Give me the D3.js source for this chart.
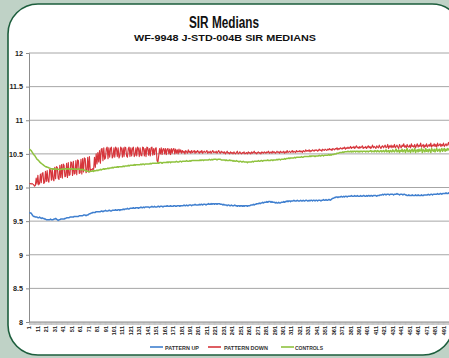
<!DOCTYPE html>
<html><head><meta charset="utf-8">
<script src="https://cdn.jsdelivr.net/npm/d3@7/dist/d3.min.js"></script>
<style>
html,body{margin:0;padding:0;background:#bfd2c6;overflow:hidden}
svg{display:block}
text{font-family:"Liberation Sans Narrow","Arial Narrow","Liberation Sans",Arial,sans-serif;font-weight:bold}
</style>
</head><body>
<svg id="chart" width="449" height="358"></svg>
<script>
// Median SIR readings per sample, three board groups
const patternUp = [
9.63,9.62,9.62,9.60,9.58,9.57,9.57,9.56,9.56,9.56,
9.55,9.55,9.56,9.55,9.54,9.55,9.54,9.54,9.53,9.53,
9.52,9.52,9.52,9.52,9.52,9.53,9.52,9.52,9.52,9.53,
9.53,9.54,9.53,9.52,9.51,9.52,9.52,9.53,9.53,9.53,
9.53,9.53,9.54,9.54,9.55,9.55,9.55,9.55,9.56,9.56,
9.56,9.56,9.56,9.57,9.57,9.57,9.57,9.57,9.57,9.58,
9.58,9.58,9.58,9.58,9.59,9.59,9.59,9.58,9.59,9.59,
9.60,9.61,9.61,9.62,9.62,9.63,9.63,9.63,9.63,9.64,
9.64,9.64,9.64,9.64,9.64,9.65,9.65,9.64,9.65,9.65,
9.66,9.65,9.65,9.65,9.66,9.66,9.65,9.65,9.66,9.66,
9.66,9.66,9.67,9.66,9.66,9.67,9.67,9.66,9.67,9.67,
9.67,9.68,9.67,9.68,9.68,9.68,9.69,9.68,9.68,9.69,
9.69,9.69,9.69,9.70,9.69,9.69,9.70,9.70,9.70,9.69,
9.70,9.70,9.71,9.70,9.70,9.71,9.70,9.71,9.71,9.71,
9.71,9.71,9.70,9.71,9.71,9.72,9.71,9.71,9.72,9.71,
9.71,9.71,9.72,9.72,9.71,9.72,9.72,9.72,9.71,9.72,
9.72,9.72,9.72,9.73,9.72,9.72,9.72,9.73,9.72,9.72,
9.72,9.73,9.73,9.72,9.72,9.73,9.73,9.73,9.72,9.73,
9.73,9.73,9.73,9.74,9.73,9.73,9.74,9.73,9.73,9.74,
9.74,9.74,9.73,9.74,9.74,9.74,9.75,9.74,9.74,9.74,
9.74,9.75,9.74,9.75,9.75,9.74,9.75,9.75,9.75,9.74,
9.75,9.75,9.76,9.75,9.75,9.76,9.75,9.76,9.76,9.75,
9.76,9.76,9.75,9.76,9.76,9.76,9.75,9.75,9.75,9.74,
9.75,9.74,9.74,9.74,9.73,9.74,9.74,9.73,9.73,9.74,
9.73,9.73,9.73,9.74,9.73,9.73,9.72,9.73,9.73,9.72,
9.73,9.73,9.72,9.73,9.72,9.73,9.73,9.73,9.72,9.73,
9.73,9.73,9.74,9.74,9.74,9.75,9.74,9.75,9.75,9.76,
9.76,9.76,9.77,9.76,9.77,9.77,9.78,9.77,9.78,9.78,
9.78,9.79,9.78,9.79,9.79,9.79,9.78,9.79,9.78,9.78,
9.78,9.77,9.78,9.77,9.77,9.78,9.77,9.77,9.78,9.78,
9.78,9.79,9.78,9.79,9.79,9.80,9.79,9.80,9.80,9.79,
9.80,9.80,9.80,9.81,9.80,9.80,9.80,9.81,9.80,9.80,
9.80,9.81,9.80,9.80,9.81,9.80,9.80,9.81,9.81,9.80,
9.80,9.81,9.80,9.81,9.81,9.80,9.81,9.81,9.80,9.81,
9.81,9.80,9.81,9.81,9.81,9.80,9.81,9.81,9.82,9.81,
9.81,9.82,9.81,9.81,9.82,9.82,9.81,9.82,9.83,9.84,
9.84,9.85,9.85,9.86,9.86,9.85,9.86,9.86,9.86,9.87,
9.86,9.86,9.87,9.86,9.87,9.87,9.86,9.87,9.87,9.87,
9.87,9.88,9.87,9.87,9.87,9.88,9.87,9.87,9.88,9.87,
9.87,9.87,9.88,9.87,9.87,9.88,9.88,9.87,9.87,9.88,
9.87,9.88,9.88,9.87,9.88,9.88,9.87,9.88,9.88,9.88,
9.88,9.87,9.88,9.88,9.88,9.89,9.89,9.89,9.90,9.89,
9.90,9.90,9.89,9.90,9.90,9.90,9.89,9.90,9.90,9.90,
9.90,9.89,9.90,9.90,9.90,9.91,9.90,9.90,9.89,9.90,
9.90,9.90,9.89,9.90,9.90,9.89,9.89,9.88,9.88,9.89,
9.88,9.88,9.88,9.89,9.88,9.88,9.88,9.89,9.88,9.88,
9.89,9.88,9.88,9.88,9.89,9.88,9.88,9.89,9.89,9.89,
9.89,9.89,9.90,9.89,9.89,9.90,9.90,9.89,9.90,9.90,
9.90,9.90,9.90,9.91,9.90,9.90,9.91,9.91,9.90,9.91,
9.91,9.91,9.91,9.92,9.91,9.91,9.92,9.91,9.92,9.92
];

const patternDown = [
10.06,10.06,10.05,10.06,10.05,10.04,10.02,10.03,10.14,10.05,
10.18,10.04,10.06,10.20,10.07,10.21,10.22,10.06,10.08,10.24,
10.09,10.25,10.10,10.08,10.27,10.26,10.11,10.28,10.12,10.10,
10.30,10.13,10.31,10.30,10.14,10.12,10.33,10.15,10.34,10.14,
10.35,10.33,10.16,10.17,10.36,10.15,10.37,10.18,10.19,10.38,
10.37,10.18,10.39,10.20,10.21,10.40,10.19,10.41,10.40,10.21,
10.22,10.42,10.20,10.43,10.23,10.44,10.43,10.22,10.24,10.45,
10.23,10.46,10.25,10.27,10.26,10.28,10.27,10.45,10.30,10.50,
10.35,10.52,10.38,10.55,10.36,10.57,10.58,10.40,10.59,10.42,
10.44,10.58,10.60,10.43,10.59,10.45,10.58,10.60,10.44,10.46,
10.59,10.45,10.60,10.58,10.46,10.59,10.44,10.47,10.60,10.58,
10.45,10.59,10.46,10.60,10.59,10.47,10.45,10.58,10.60,10.46,
10.59,10.47,10.58,10.60,10.46,10.48,10.59,10.47,10.60,10.58,
10.46,10.59,10.48,10.47,10.60,10.59,10.47,10.58,10.46,10.60,
10.59,10.48,10.58,10.47,10.59,10.60,10.48,10.58,10.49,10.58,
10.59,10.40,10.37,10.47,10.58,10.50,10.59,10.49,10.57,10.58,
10.50,10.58,10.49,10.57,10.58,10.50,10.57,10.49,10.58,10.51,
10.57,10.58,10.50,10.57,10.51,10.56,10.50,10.57,10.52,10.56,
10.51,10.55,10.52,10.54,10.50,10.55,10.53,10.51,10.56,10.52,
10.54,10.51,10.55,10.52,10.53,10.55,10.51,10.54,10.52,10.55,
10.53,10.51,10.54,10.52,10.55,10.51,10.53,10.54,10.52,10.53,
10.55,10.51,10.53,10.52,10.54,10.51,10.53,10.55,10.52,10.53,
10.52,10.54,10.51,10.53,10.55,10.52,10.51,10.54,10.52,10.53,
10.51,10.53,10.50,10.52,10.54,10.51,10.52,10.50,10.53,10.51,
10.52,10.50,10.53,10.51,10.50,10.52,10.54,10.50,10.51,10.53,
10.51,10.50,10.52,10.51,10.53,10.50,10.51,10.52,10.50,10.53,
10.51,10.52,10.50,10.53,10.51,10.52,10.54,10.51,10.52,10.50,
10.52,10.53,10.51,10.52,10.50,10.53,10.52,10.51,10.53,10.52,
10.51,10.53,10.52,10.54,10.51,10.52,10.53,10.51,10.54,10.52,
10.53,10.51,10.52,10.54,10.52,10.53,10.51,10.54,10.52,10.53,
10.52,10.54,10.51,10.53,10.52,10.55,10.52,10.53,10.54,10.52,
10.53,10.55,10.52,10.54,10.53,10.52,10.55,10.53,10.54,10.53,
10.55,10.53,10.54,10.52,10.55,10.54,10.53,10.56,10.54,10.55,
10.54,10.56,10.53,10.55,10.54,10.56,10.55,10.54,10.56,10.55,
10.56,10.54,10.55,10.57,10.55,10.56,10.54,10.57,10.56,10.55,
10.57,10.56,10.55,10.57,10.56,10.58,10.56,10.57,10.55,10.58,
10.57,10.56,10.58,10.57,10.59,10.56,10.58,10.57,10.59,10.58,
10.57,10.59,10.58,10.60,10.57,10.59,10.58,10.60,10.58,10.59,
10.61,10.58,10.60,10.59,10.61,10.58,10.60,10.62,10.59,10.60,
10.58,10.61,10.59,10.60,10.62,10.58,10.60,10.59,10.61,10.58,
10.60,10.62,10.59,10.61,10.58,10.60,10.63,10.59,10.61,10.60,
10.58,10.62,10.60,10.59,10.63,10.60,10.58,10.61,10.62,10.59,
10.61,10.63,10.59,10.60,10.64,10.58,10.62,10.60,10.63,10.59,
10.62,10.60,10.64,10.59,10.61,10.63,10.60,10.58,10.64,10.61,
10.59,10.63,10.61,10.65,10.60,10.62,10.59,10.64,10.61,10.60,
10.63,10.59,10.65,10.61,10.62,10.60,10.64,10.59,10.62,10.65,
10.60,10.63,10.61,10.66,10.60,10.62,10.64,10.59,10.63,10.61,
10.65,10.60,10.62,10.64,10.61,10.66,10.60,10.63,10.62,10.65,
10.61,10.64,10.60,10.66,10.62,10.63,10.65,10.61,10.64,10.62,
10.66,10.61,10.63,10.65,10.62,10.64,10.67,10.62,10.64,10.65
];

const controls = [
10.57,10.56,10.55,10.53,10.51,10.49,10.48,10.46,10.44,10.42,
10.41,10.40,10.38,10.37,10.36,10.35,10.34,10.33,10.32,10.31,
10.31,10.30,10.30,10.29,10.29,10.28,10.28,10.28,10.27,10.28,
10.27,10.27,10.28,10.27,10.27,10.27,10.26,10.27,10.27,10.28,
10.27,10.27,10.28,10.28,10.27,10.28,10.28,10.27,10.28,10.28,
10.27,10.28,10.27,10.27,10.28,10.27,10.27,10.27,10.28,10.27,
10.27,10.26,10.27,10.27,10.26,10.26,10.25,10.25,10.24,10.24,
10.24,10.23,10.24,10.24,10.24,10.25,10.24,10.25,10.25,10.25,
10.26,10.25,10.26,10.26,10.27,10.26,10.27,10.27,10.28,10.27,
10.28,10.28,10.28,10.29,10.28,10.29,10.29,10.29,10.30,10.29,
10.30,10.30,10.30,10.30,10.31,10.30,10.31,10.31,10.31,10.31,
10.31,10.32,10.31,10.32,10.32,10.32,10.32,10.33,10.32,10.33,
10.33,10.33,10.33,10.33,10.34,10.33,10.34,10.34,10.34,10.34,
10.34,10.34,10.35,10.34,10.35,10.35,10.34,10.35,10.35,10.35,
10.35,10.35,10.35,10.36,10.35,10.36,10.36,10.36,10.36,10.36,
10.36,10.36,10.37,10.36,10.37,10.37,10.37,10.36,10.37,10.37,
10.37,10.37,10.37,10.38,10.37,10.38,10.38,10.37,10.38,10.38,
10.38,10.38,10.38,10.38,10.39,10.38,10.38,10.38,10.39,10.39,
10.38,10.39,10.39,10.39,10.39,10.39,10.40,10.39,10.39,10.39,
10.40,10.39,10.40,10.40,10.40,10.40,10.40,10.40,10.40,10.40,
10.40,10.40,10.41,10.40,10.41,10.41,10.40,10.41,10.41,10.41,
10.41,10.41,10.41,10.42,10.41,10.41,10.42,10.41,10.42,10.42,
10.42,10.42,10.41,10.42,10.42,10.42,10.42,10.41,10.41,10.41,
10.41,10.41,10.40,10.41,10.40,10.40,10.40,10.41,10.40,10.40,
10.40,10.39,10.40,10.39,10.39,10.40,10.39,10.39,10.38,10.39,
10.39,10.38,10.38,10.39,10.38,10.38,10.38,10.38,10.37,10.38,
10.38,10.38,10.38,10.38,10.39,10.38,10.39,10.39,10.39,10.39,
10.39,10.40,10.39,10.39,10.40,10.40,10.39,10.40,10.40,10.40,
10.40,10.40,10.41,10.40,10.40,10.40,10.41,10.41,10.40,10.41,
10.41,10.41,10.41,10.42,10.41,10.42,10.42,10.41,10.42,10.42,
10.42,10.42,10.43,10.42,10.43,10.43,10.43,10.44,10.43,10.44,
10.44,10.44,10.44,10.44,10.45,10.44,10.45,10.45,10.45,10.45,
10.45,10.45,10.46,10.45,10.45,10.46,10.46,10.46,10.46,10.46,
10.46,10.46,10.47,10.46,10.47,10.47,10.47,10.47,10.46,10.47,
10.47,10.47,10.47,10.48,10.47,10.47,10.48,10.48,10.47,10.48,
10.48,10.48,10.48,10.48,10.49,10.48,10.49,10.48,10.49,10.49,
10.49,10.50,10.50,10.50,10.51,10.51,10.51,10.52,10.52,10.52,
10.52,10.53,10.52,10.53,10.53,10.53,10.53,10.54,10.53,10.53,
10.54,10.53,10.54,10.53,10.54,10.54,10.53,10.54,10.54,10.53,
10.54,10.53,10.54,10.54,10.53,10.54,10.54,10.54,10.53,10.54,
10.54,10.53,10.54,10.54,10.55,10.53,10.54,10.54,10.53,10.55,
10.54,10.53,10.55,10.54,10.53,10.54,10.55,10.53,10.54,10.55,
10.53,10.54,10.56,10.53,10.54,10.55,10.52,10.55,10.54,10.53,
10.56,10.54,10.53,10.55,10.57,10.53,10.54,10.56,10.52,10.55,
10.54,10.57,10.53,10.55,10.56,10.52,10.55,10.58,10.53,10.54,
10.56,10.52,10.55,10.57,10.53,10.55,10.58,10.52,10.55,10.56,
10.53,10.57,10.54,10.55,10.58,10.52,10.56,10.55,10.53,10.58,
10.54,10.56,10.53,10.57,10.55,10.52,10.58,10.55,10.54,10.57,
10.53,10.56,10.58,10.54,10.55,10.57,10.53,10.56,10.58,10.54,
10.56,10.58,10.54,10.57,10.55,10.58,10.56,10.57,10.59,10.57
];

const categories = patternUp.map((_, i) => String(i + 1));
const xLabelEvery = 10;
const yTicks = [8, 8.5, 9, 9.5, 10, 10.5, 11, 11.5, 12];
const seriesNames = ["PATTERN UP", "PATTERN DOWN", "CONTROLS"];
const seriesColors = ["#3f7fcf", "#d6353b", "#8fc23f"];
const seriesWidths = [1.5, 1.15, 1.5];
const seriesValues = [patternUp, patternDown, controls];

const svg = d3.select("#chart");

// rounded white panel with dark green outline
svg.append("path")
  .attr("d", "M38,4 H432 A30,30 0 0 1 462,34 L453,325 A30,30 0 0 1 423,355 H38 A30,30 0 0 1 8,325 V34 A30,30 0 0 1 38,4 Z")
  .attr("fill", "#ffffff")
  .attr("stroke", "#1d5e3d")
  .attr("stroke-width", 1.6);

// titles
svg.append("text").attr("x", 224).attr("y", 28)
  .attr("text-anchor", "middle").attr("font-size", 16)
  .attr("textLength", 70).attr("lengthAdjust", "spacingAndGlyphs")
  .attr("fill", "#111").text("SIR Medians");
svg.append("text").attr("x", 225).attr("y", 41)
  .attr("text-anchor", "middle").attr("font-size", 9.5)
  .attr("textLength", 182).attr("lengthAdjust", "spacingAndGlyphs")
  .attr("fill", "#111").text("WF-9948 J-STD-004B SIR MEDIANS");

const plotLeft = 29, plotTop = 53, plotBottom = 322;
const bandW = 0.845;

const x = d3.scaleBand()
  .domain(categories)
  .range([plotLeft, plotLeft + categories.length * bandW])
  .paddingInner(0).paddingOuter(0);

const y = d3.scaleLinear().domain([8, 12]).range([plotBottom, plotTop]);

// horizontal grid
svg.append("g").selectAll("line")
  .data(yTicks.filter(v => v > 8))
  .join("line")
  .attr("x1", plotLeft).attr("x2", 470)
  .attr("y1", d => y(d)).attr("y2", d => y(d))
  .attr("stroke", "#a6a6a6").attr("stroke-width", 1);

// y axis
const yAxis = svg.append("g")
  .attr("transform", `translate(${plotLeft},0)`)
  .call(d3.axisLeft(y).tickValues(yTicks).tickSize(3).tickPadding(3)
    .tickFormat(d => String(d)));
yAxis.attr("font-family", null);
yAxis.select(".domain").attr("stroke", "#8c8c8c");
yAxis.selectAll(".tick line").attr("stroke", "#8c8c8c");
yAxis.selectAll("text").attr("font-size", 7.2).attr("fill", "#222");

// x axis: a tick per category, label every tenth
const xAxis = svg.append("g")
  .attr("transform", `translate(0,${plotBottom})`)
  .call(d3.axisBottom(x)
    .tickValues(categories)
    .tickSize(3)
    .tickFormat((d, i) => (i % xLabelEvery === 0 ? d : "")));
xAxis.attr("font-family", null);
xAxis.select(".domain").attr("stroke", "#8c8c8c").attr("d", `M${plotLeft},0H470`);
xAxis.selectAll(".tick line").attr("stroke", "#9a9a9a").attr("stroke-width", 0.5);
xAxis.selectAll(".tick text")
  .attr("font-size", 5.6).attr("fill", "#222")
  .attr("text-anchor", "end")
  .attr("transform", "rotate(-90)")
  .attr("x", -4).attr("y", 0).attr("dy", "0.35em");

// series lines
const line = d3.line()
  .x((d, i) => x(categories[i]) + x.bandwidth() / 2)
  .y(d => y(d));

svg.append("g").selectAll("path")
  .data(seriesValues)
  .join("path")
  .attr("d", d => line(d))
  .attr("fill", "none")
  .attr("stroke", (d, i) => seriesColors[i])
  .attr("stroke-width", (d, i) => seriesWidths[i])
  .attr("stroke-linejoin", "round");

// legend
const legendItems = [
  { lx: 150, tx: 165, w: 34 },
  { lx: 208, tx: 224, w: 44 },
  { lx: 281, tx: 295, w: 28 }
];
const legend = svg.append("g");
legendItems.forEach((it, i) => {
  legend.append("line")
    .attr("x1", it.lx).attr("x2", it.lx + 13)
    .attr("y1", 347).attr("y2", 347)
    .attr("stroke", seriesColors[i]).attr("stroke-width", 1.6);
  legend.append("text")
    .attr("x", it.tx).attr("y", 349.5)
    .attr("font-size", 6).attr("fill", "#333")
    .attr("textLength", it.w).attr("lengthAdjust", "spacingAndGlyphs")
    .text(seriesNames[i]);
});
</script>
</body></html>
